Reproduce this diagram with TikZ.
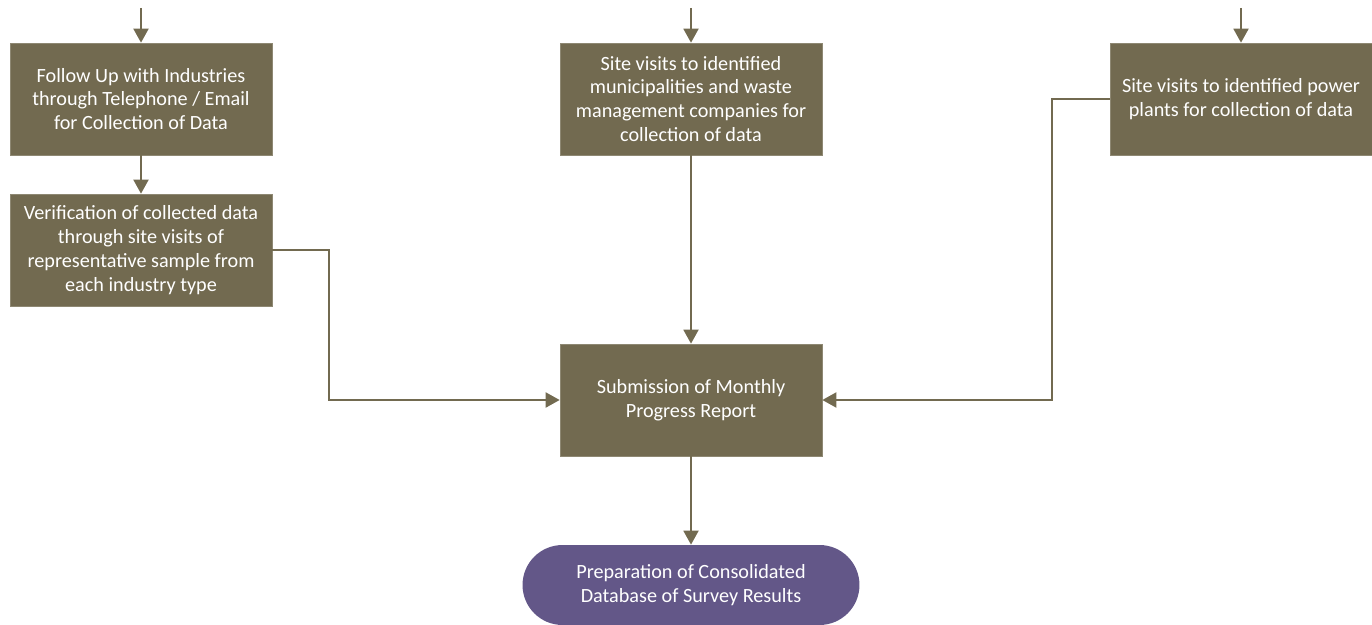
\documentclass[tikz,border=0pt]{standalone}
\usepackage{fontspec}
\setmainfont{Carlito}
\usepackage{xcolor}
\usepackage{tikz}
\usetikzlibrary{arrows.meta, positioning}
\definecolor{olive}{HTML}{726A50}
\definecolor{plum}{HTML}{635788}
\tikzset{
    task/.style={rectangle, fill=olive, draw=olive!80!white, thin, minimum width=5.24cm, minimum height=2.24cm, align=center, text=white, font=\fontsize{11.5}{13.6}\selectfont},
    finish/.style={rectangle, rounded corners=0.8cm, fill=plum, minimum width=6.74cm, minimum height=1.6cm, align=center, text=white, font=\fontsize{11.5}{13.6}\selectfont},
    arrow/.style={-{Triangle[length=0.28cm, width=0.3cm]}, draw=olive, line width=1.1pt}
}

\begin{document}
\begin{tikzpicture}[x=0.02cm, y=-0.02cm]
    \useasboundingbox (0,0) rectangle (1372,625);
    \node[task] (follow) at (141,99) {Follow Up with Industries\\through Telephone / Email\\for Collection of Data};
    \node[task] (verify) at (141,250) {Verification of collected data\\through site visits of\\representative sample from\\each industry type};
    \node[task] (municip) at (691,99) {Site visits to identified\\municipalities and waste\\management companies for\\collection of data};
    \node[task] (power) at (1241,99) {Site visits to identified power\\plants for collection of data};
    \node[task] (report) at (691,400) {Submission of Monthly\\Progress Report};
    \node[finish] (database) at (691,585) {Preparation of Consolidated\\Database of Survey Results};
    \coordinate (inA) at (141,8);
    \coordinate (inB) at (691,8);
    \coordinate (inC) at (1241,8);
    \draw[arrow] (inA) -- (follow);
    \draw[arrow] (inB) -- (municip);
    \draw[arrow] (inC) -- (power);
    \draw[arrow] (follow) -- (verify);
    \draw[arrow] (verify.east) -| (329,400) -- (report.west);
    \draw[arrow] (municip) -- (report);
    \draw[arrow] (power.west) -| (1052,400) -- (report.east);
    \draw[arrow] (report) -- (database);
\end{tikzpicture}
\end{document}
